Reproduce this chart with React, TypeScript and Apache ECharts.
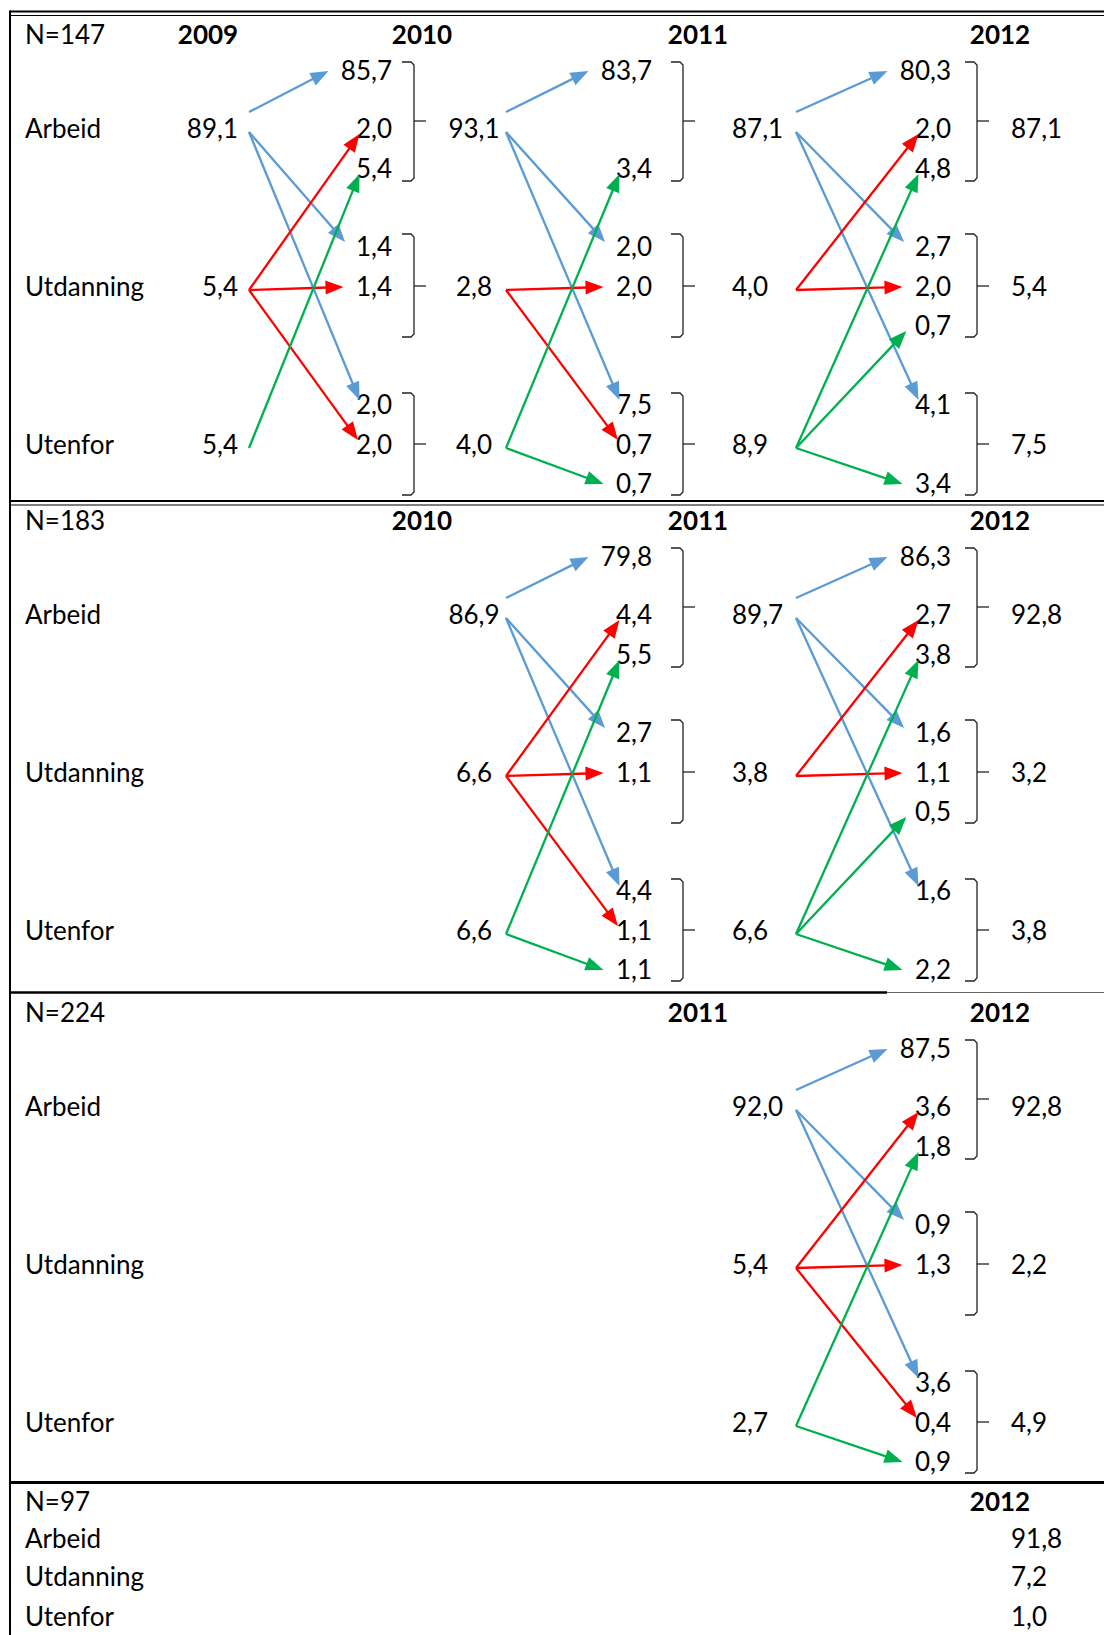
import React, { useEffect, useRef } from "react";
import * as echarts from "echarts";

// ---------------- DATA ----------------
const categories = ["Arbeid", "Utdanning", "Utenfor"];
const years = ["2009", "2010", "2011", "2012"];
const sampleSizes = ["N=147", "N=183", "N=224", "N=97"];

// N=147 (rows: from category, columns: to category)
const n147Totals2009 = [89.1, 5.4, 5.4];
const n147Flows0910 = [
  [85.7, 1.4, 2.0],
  [2.0, 1.4, 2.0],
  [5.4, null, null],
];
const n147Totals2010 = [93.1, 2.8, 4.0];
const n147Flows1011 = [
  [83.7, 2.0, 7.5],
  [null, 2.0, 0.7],
  [3.4, null, 0.7],
];
const n147Totals2011 = [87.1, 4.0, 8.9];
const n147Flows1112 = [
  [80.3, 2.7, 4.1],
  [2.0, 2.0, null],
  [4.8, 0.7, 3.4],
];
const n147Totals2012 = [87.1, 5.4, 7.5];

// N=183
const n183Totals2010 = [86.9, 6.6, 6.6];
const n183Flows1011 = [
  [79.8, 2.7, 4.4],
  [4.4, 1.1, 1.1],
  [5.5, null, 1.1],
];
const n183Totals2011 = [89.7, 3.8, 6.6];
const n183Flows1112 = [
  [86.3, 1.6, 1.6],
  [2.7, 1.1, null],
  [3.8, 0.5, 2.2],
];
const n183Totals2012 = [92.8, 3.2, 3.8];

// N=224
const n224Totals2011 = [92.0, 5.4, 2.7];
const n224Flows1112 = [
  [87.5, 0.9, 3.6],
  [3.6, 1.3, 0.4],
  [1.8, null, 0.9],
];
const n224Totals2012 = [92.8, 2.2, 4.9];

// N=97
const n97Totals2012 = [91.8, 7.2, 1.0];

const panels = [
  {
    n: sampleSizes[0],
    startYear: 0,
    totals: [n147Totals2009, n147Totals2010, n147Totals2011, n147Totals2012],
    flows: [n147Flows0910, n147Flows1011, n147Flows1112],
  },
  {
    n: sampleSizes[1],
    startYear: 1,
    totals: [n183Totals2010, n183Totals2011, n183Totals2012],
    flows: [n183Flows1011, n183Flows1112],
  },
  {
    n: sampleSizes[2],
    startYear: 2,
    totals: [n224Totals2011, n224Totals2012],
    flows: [n224Flows1112],
  },
];

// ---------------- LAYOUT ----------------
const W = 1104;
const H = 1635;
const LABEL_X = 25;
const HEADER_Y = 35;
const CAT_Y = [129, 287, 445];
const SLOT_Y = [
  [71, 129, 169],
  [247, 287, 326],
  [405, 445, 484],
];
const BRACKET_Y = [
  [62, 121, 181],
  [234, 286, 337],
  [393, 444, 495],
];
const PANEL_TOP = [0, 486, 978];
const COLS: any[] = [
  { header: 208, total: 238, totalAlign: "right", arrowStart: 249 },
  { header: 422, sub: 392, bracket: 414, total: 474, totalAlign: "center", arrowStart: 506 },
  { header: 698, sub: 652, bracket: 683, total: 732, totalAlign: "left", arrowStart: 796 },
  { header: 1000, sub: 951, bracket: 977, total: 1011, totalAlign: "left", arrowStart: 0 },
];
const LAST_HEADER_Y = 1502;
const LAST_ROWS_Y = [1539, 1577, 1617];
const COLORS = ["#5B9BD5", "#FF0000", "#00B050"];
const FONT_SIZE = 26;
const TEXT_DY = -1;
const FONT_FAMILY = "Lato, 'Open Sans', sans-serif";
const HEAD_L = 18;
const HEAD_W = 14;
const ARROW_W = 2.3;

const fmt = (v: number) => v.toFixed(1).replace(".", ",");
const textWidth = (s: string) => {
  let w = 0;
  for (const ch of s) w += ch === "," ? 6.5 : 15;
  return w;
};
const clamp = (v: number, a: number, b: number) => Math.max(a, Math.min(b, v));

type TextItem = { x: number; y: number; text: string; align: string; bold?: boolean };

function buildModel() {
  const texts: TextItem[] = [];
  const arrows: number[][] = [];
  const brackets: number[][] = [];

  panels.forEach((p, pi) => {
    const oy = PANEL_TOP[pi];
    texts.push({ x: LABEL_X, y: oy + HEADER_Y, text: p.n, align: "left" });
    for (let k = p.startYear; k < years.length; k++) {
      texts.push({ x: COLS[k].header, y: oy + HEADER_Y, text: years[k], align: "center", bold: true });
    }
    categories.forEach((c, g) => texts.push({ x: LABEL_X, y: oy + CAT_Y[g], text: c, align: "left" }));
    p.totals.forEach((tot, i) => {
      const col = COLS[p.startYear + i];
      tot.forEach((v, g) =>
        texts.push({ x: col.total, y: oy + CAT_Y[g], text: fmt(v), align: col.totalAlign })
      );
    });
    p.flows.forEach((m, i) => {
      const from = COLS[p.startYear + i];
      const to = COLS[p.startYear + i + 1];
      m.forEach((row, s) =>
        row.forEach((v, g) => {
          if (v == null) return;
          const label = fmt(v);
          const ty = oy + SLOT_Y[g][s];
          texts.push({ x: to.sub, y: ty, text: label, align: "right" });
          const left = to.sub - textWidth(label);
          const sy = oy + CAT_Y[s] + (g === 0 && s === 0 ? -17 : 3);
          const dy = ty - sy;
          const ex = left - 12 + 16 * clamp((Math.abs(dy) - 110) / 50, 0, 1);
          const ey = ty - (Math.abs(dy) > 60 ? 5 * Math.sign(dy) : 0);
          arrows.push([from.arrowStart, sy, ex, ey, s]);
        })
      );
      BRACKET_Y.forEach((b) => brackets.push([to.bracket, oy + b[0], oy + b[1], oy + b[2]]));
    });
  });

  // last panel (N=97)
  texts.push({ x: LABEL_X, y: LAST_HEADER_Y, text: sampleSizes[3], align: "left" });
  texts.push({ x: COLS[3].header, y: LAST_HEADER_Y, text: years[3], align: "center", bold: true });
  categories.forEach((c, g) => {
    texts.push({ x: LABEL_X, y: LAST_ROWS_Y[g], text: c, align: "left" });
    texts.push({ x: COLS[3].total, y: LAST_ROWS_Y[g], text: fmt(n97Totals2012[g]), align: "left" });
  });

  return { texts, arrows, brackets };
}

export default function App() {
  const ref = useRef<HTMLDivElement>(null);

  useEffect(() => {
    document.body.style.margin = "0";
    document.body.style.overflow = "hidden";
    if (!ref.current) return;
    const chart = echarts.init(ref.current, undefined, { renderer: "svg" });
    const { texts, arrows, brackets } = buildModel();

    const line = (x1: number, y1: number, x2: number, y2: number, w: number, c = "#000") => ({
      type: "line",
      shape: { x1, y1, x2, y2 },
      style: { stroke: c, lineWidth: w },
      silent: true,
    });

    chart.setOption({
      animation: false,
      backgroundColor: "#ffffff",
      grid: { left: 0, right: 0, top: 0, bottom: 0 },
      xAxis: { type: "value", min: 0, max: W, show: false },
      yAxis: { type: "value", min: 0, max: H, inverse: true, show: false },
      graphic: [
        line(10, 11.5, W, 11.5, 2),
        line(10, 15.5, W, 15.5, 1),
        line(10, 501, W, 501, 2),
        line(10, 505, W, 505, 1),
        line(10, 992.5, 887, 992.5, 2.5),
        line(887, 992.5, W, 992.5, 1, "#666"),
        line(10, 1482.5, W, 1482.5, 3),
        line(10, 10.5, 10, H, 2),
      ],
      series: [
        {
          type: "custom",
          name: "brackets",
          silent: true,
          data: brackets,
          renderItem: (params: any, api: any) => {
            const t = api.coord([api.value(0), api.value(1)]);
            const m = api.coord([api.value(0), api.value(2)]);
            const b = api.coord([api.value(0), api.value(3)]);
            const x = t[0];
            return {
              type: "group",
              children: [
                {
                  type: "polyline",
                  shape: {
                    points: [
                      [x - 12, t[1]],
                      [x - 3, t[1]],
                      [x, t[1] + 3],
                      [x, b[1] - 3],
                      [x - 3, b[1]],
                      [x - 12, b[1]],
                    ],
                  },
                  style: { stroke: "#222", lineWidth: 1.3, fill: null },
                },
                {
                  type: "line",
                  shape: { x1: x, y1: m[1], x2: x + 12, y2: m[1] },
                  style: { stroke: "#222", lineWidth: 1.3 },
                },
              ],
            };
          },
        },
        {
          type: "custom",
          name: "texts",
          silent: true,
          data: texts.map((t) => [t.x, t.y + TEXT_DY]),
          renderItem: (params: any, api: any) => {
            const it = texts[params.dataIndex];
            const p = api.coord([api.value(0), api.value(1)]);
            const font = (it.bold ? "bold " : "") + FONT_SIZE + "px " + FONT_FAMILY;
            return {
              type: "text",
              x: p[0],
              y: p[1],
              style: {
                text: it.text,
                fill: "#000",
                font,
                textAlign: it.align,
                textVerticalAlign: "middle",
                align: it.align,
                verticalAlign: "middle",
              },
            };
          },
        },
        {
          type: "custom",
          name: "arrows",
          silent: true,
          data: arrows,
          renderItem: (params: any, api: any) => {
            const a = api.coord([api.value(0), api.value(1)]);
            const b = api.coord([api.value(2), api.value(3)]);
            const color = COLORS[api.value(4)];
            const dx = b[0] - a[0];
            const dy = b[1] - a[1];
            const len = Math.hypot(dx, dy) || 1;
            const ux = dx / len;
            const uy = dy / len;
            const bx = b[0] - ux * HEAD_L;
            const by = b[1] - uy * HEAD_L;
            const px = -uy * (HEAD_W / 2);
            const py = ux * (HEAD_W / 2);
            return {
              type: "group",
              children: [
                {
                  type: "line",
                  shape: { x1: a[0], y1: a[1], x2: bx + ux * 2, y2: by + uy * 2 },
                  style: { stroke: color, lineWidth: ARROW_W },
                },
                {
                  type: "polygon",
                  shape: {
                    points: [
                      [b[0], b[1]],
                      [bx + px, by + py],
                      [bx - px, by - py],
                    ],
                  },
                  style: { fill: color },
                },
              ],
            };
          },
        },
      ],
    });

    return () => chart.dispose();
  }, []);

  return (
    <div
      ref={ref}
      style={{ position: "absolute", left: 0, top: 0, width: W, height: H, background: "#fff" }}
    />
  );
}
